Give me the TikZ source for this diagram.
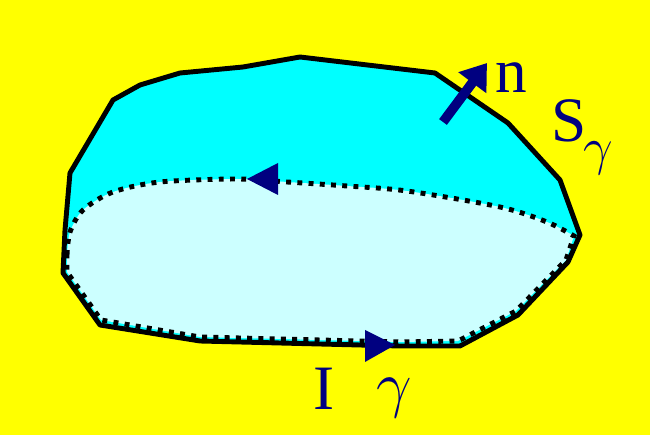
\RequirePackage{fix-cm}
\documentclass[tikz,border=0pt]{standalone}
\usepackage{fontspec}
\setmainfont{Liberation Serif}
\usetikzlibrary{arrows.meta}

\definecolor{bgyellow}{RGB}{255,255,0}
\definecolor{capcyan}{RGB}{0,255,255}
\definecolor{rimcyan}{RGB}{204,255,255}
\definecolor{lblnavy}{RGB}{0,0,128}

\begin{document}
\begin{tikzpicture}[
  x=0.02cm, y=-0.02cm,
  lbl/.style     = {font=\fontsize{36}{40}\selectfont, text=lblnavy, inner sep=0pt, anchor=base},
  sublbl/.style  = {font=\fontsize{30}{34}\selectfont, text=lblnavy, inner sep=0pt, anchor=base},
  outline/.style = {line width=2.8pt, line join=round},
  dots/.style    = {line width=2.8pt, dash pattern=on 2.8pt off 3.6pt},
  tri/.style     = {fill=lblnavy},
]

% background
\fill[bgyellow] (0,0) rectangle (650,435);
\useasboundingbox (0,0) rectangle (650,435);

% the surface S_gamma
\filldraw[fill=capcyan, outline]
  (70,173) -- (113,100) -- (140,85) -- (180,73) -- (243,67) -- (300,57) --
  (435,73) -- (508,123) -- (560,180) -- (580,235) -- (568,262) --
  (518,315) -- (460,346) -- (400,346) -- (200,341) -- (100,325) --
  (63,273) -- (65,230) -- cycle;

% the loop gamma
\filldraw[fill=rimcyan, dots]
  plot[smooth] coordinates {(67,255) (70,232) (83,210) (113,192) (160,182)
    (237,179) (287,182) (347,186) (407,191) (500,207) (547,222) (574,236)}
  -- (566,260) -- (516,311) -- (458,341) -- (400,342) -- (200,337) --
  (101,320) -- (67,272) -- cycle;

% direction of I
\fill[tri] (278,163) -- (278,195) -- (247,179) -- cycle;
\fill[tri] (365,330) -- (365,362) -- (395,345) -- cycle;

% normal
\draw[lblnavy, line width=5.5pt, -{Triangle[length=14pt,width=19pt]}]
  (443,122) -- (487,63);

\node[lbl]    (nlbl) at (511,93)  {n};
\node[lbl]    (slbl) at (569,142) {S};
\node[sublbl] (sgam) at (598,165) {$\gamma$};
\node[lbl]    (ilbl) at (324,410) {I};
\node[lbl]    (igam) at (394,406) {$\gamma$};

\end{tikzpicture}
\end{document}
